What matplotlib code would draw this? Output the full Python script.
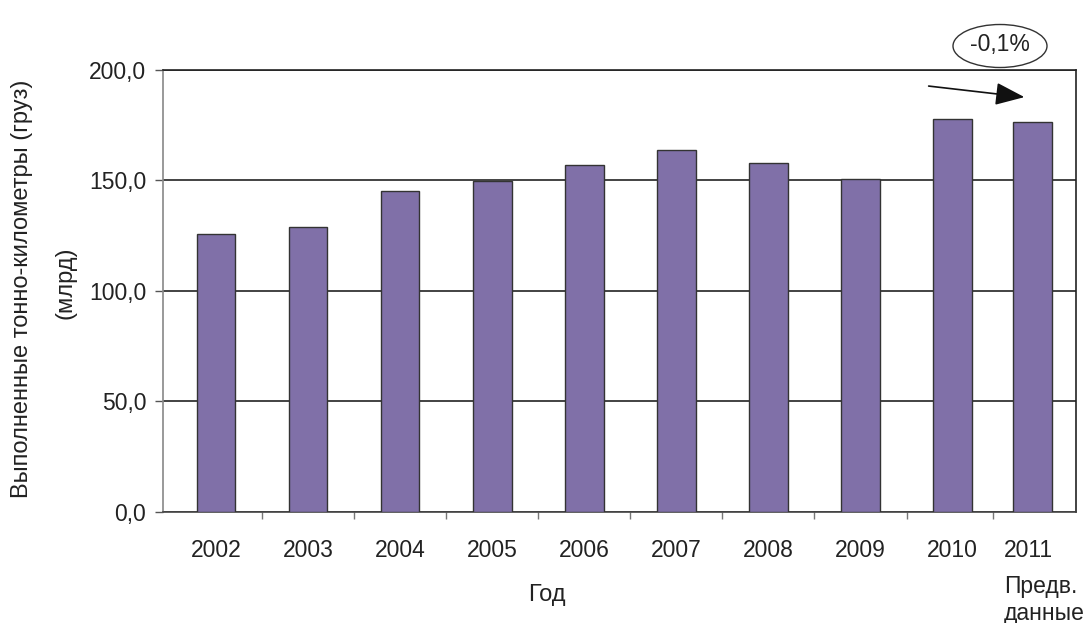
import numpy as np
import matplotlib
matplotlib.use("Agg")
import matplotlib.pyplot as plt
from matplotlib.patches import Ellipse

plt.rcParams['font.family'] = ['Liberation Sans', 'DejaVu Sans']

years = ["2002", "2003", "2004", "2005", "2006", "2007", "2008", "2009", "2010", "2011"]
tkm = [125.5, 129.0, 145.0, 149.8, 157.0, 163.7, 157.9, 150.7, 177.6, 176.5]
change_label = "-0,1%"

FS = 16.5
TXT = "#222222"

fig = plt.figure(figsize=(10.84, 6.23), dpi=100)
ax = fig.add_axes([0.1504, 0.1787, 0.8422, 0.7094])

# the preliminary year sits a little closer to its neighbour
x = np.arange(len(years), dtype=float)
x[-1] = 8.87

ax.bar(x, tkm, width=0.42, color="#8070a8", edgecolor="#333333", linewidth=1.0, zorder=3)

ax.set_xlim(-0.575, 9.34)
ax.set_ylim(0, 200)
ax.set_yticks([0, 50, 100, 150, 200])
ax.set_yticklabels(["0,0", "50,0", "100,0", "150,0", "200,0"], fontsize=FS, color=TXT)
ax.yaxis.grid(True, color="#222222", linewidth=1.2, zorder=1)

# category boundaries carry the tick marks, labels sit below the bars
bounds = list(np.arange(0.5, 8.0, 1.0)) + [(x[8] + x[9]) / 2]
ax.set_xticks(bounds)
ax.set_xticklabels([])
ax.tick_params(axis="x", length=5, color="#777777", width=1)
ax.tick_params(axis="y", length=6, color="#555555", width=1, pad=6)
xt = ax.get_xaxis_transform()
for xi, yr in zip(x[:-1], years[:-1]):
    ax.text(xi, -0.102, yr, transform=xt, ha="center", va="baseline", fontsize=FS, color=TXT)
x_note = x[-1] - 0.314
ax.text(x_note, -0.102, years[-1], transform=xt,
        ha="left", va="baseline", fontsize=FS, color=TXT)
ax.text(x_note, -0.184, "Предв.", transform=xt,
        ha="left", va="baseline", fontsize=FS, color=TXT)
ax.text(x_note, -0.245, "данные", transform=xt,
        ha="left", va="baseline", fontsize=FS, color=TXT)

ax.spines["left"].set_color("#888888")
ax.spines["bottom"].set_color("#444444")
ax.spines["top"].set_color("#222222")
ax.spines["right"].set_color("#222222")
for s in ax.spines.values():
    s.set_linewidth(1.2)

fig.text(547 / 1084, 1 - 601 / 623, "Год", ha="center", va="baseline", fontsize=17, color=TXT)
fig.text(22 / 1084, 1 - 289 / 623, "Выполненные тонно-километры (груз)",
         rotation=90, ha="center", va="center", fontsize=17, color=TXT)
fig.text(65 / 1084, 1 - 283 / 623, "(млрд)",
         rotation=90, ha="center", va="center", fontsize=17, color=TXT)

# change annotation: arrow towards the preliminary bar and a ringed label
ax.annotate("", xy=(8.78, 187.6), xytext=(7.74, 192.6),
            arrowprops=dict(arrowstyle="-|>,head_length=1.8,head_width=0.7",
                            color="#111111", lw=1.2, shrinkA=0, shrinkB=0),
            annotation_clip=False, zorder=5)
fig.patches.append(Ellipse((1000 / 1084, 1 - 46 / 623), 94 / 1084, 43 / 623,
                           transform=fig.transFigure, facecolor="white",
                           edgecolor="#333333", linewidth=1.0))
fig.text(1000 / 1084, 1 - 45 / 623, change_label, ha="center", va="center",
         fontsize=FS, color=TXT)

fig.savefig("out.png", dpi=100)
